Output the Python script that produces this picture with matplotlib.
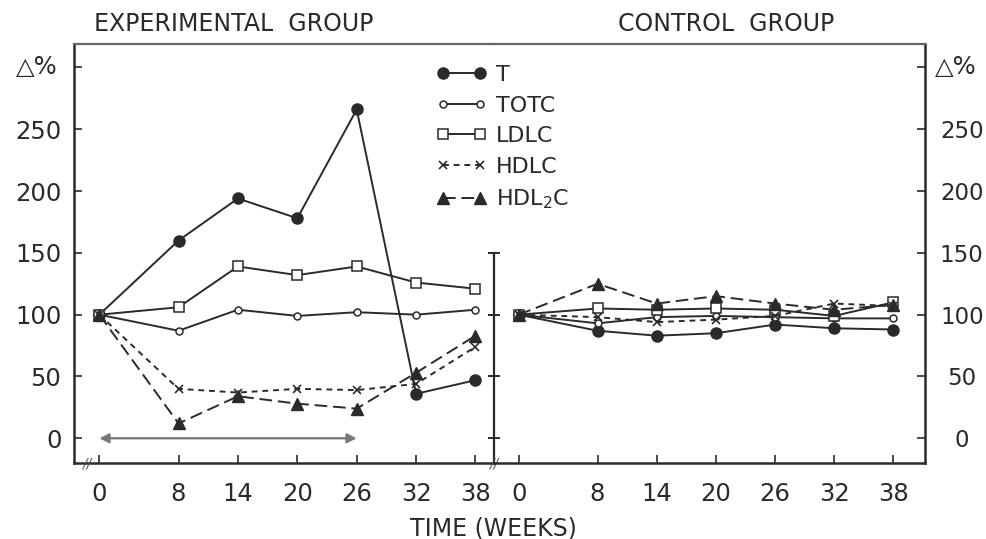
"""Percent change of lipid fractions over 38 weeks, experimental vs control group."""
import matplotlib

matplotlib.use("Agg")
import matplotlib.pyplot as plt

WEEKS = [0, 8, 14, 20, 26, 32, 38]
Y_TICKS = [0, 50, 100, 150, 200, 250, 300]
Y_LABELS = ["0", "50", "100", "150", "200", "250", ""]
DIVIDER_TICKS = [0, 50, 100, 150]
ARROW_SPAN = (0, 26)

SERIES = ["T", "TOTC", "LDLC", "HDLC", "HDL$_2$C"]

EXP_T = [100, 160, 194, 178, 266, 36, 47]
EXP_TOTC = [100, 87, 104, 99, 102, 100, 104]
EXP_LDLC = [100, 106, 139, 132, 139, 126, 121]
EXP_HDLC = [100, 40, 37, 40, 39, 44, 74]
EXP_HDL2C = [100, 12, 34, 28, 24, 53, 83]

CTL_T = [100, 87, 83, 85, 92, 89, 88]
CTL_TOTC = [100, 93, 98, 99, 98, 97, 97]
CTL_LDLC = [100, 105, 104, 105, 104, 99, 110]
CTL_HDLC = [100, 98, 94, 96, 99, 109, 107]
CTL_HDL2C = [100, 125, 109, 115, 109, 104, 108]

INK = "#2a2a2a"
STYLES = [
    dict(marker="o", ms=8, mfc=INK, mec=INK, ls="-"),
    dict(marker="o", ms=5, mfc="white", mec=INK, mew=1.1, ls="-"),
    dict(marker="s", ms=7.5, mfc="white", mec=INK, mew=1.1, ls="-"),
    dict(marker="x", ms=6, mec=INK, mew=1.2, ls=(0, (3, 2.5))),
    dict(marker="^", ms=8, mfc=INK, mec=INK, ls=(0, (6.5, 3))),
]


def style_axes(ax, side):
    ax.set_ylim(-20, 319)
    ax.set_xticks(WEEKS)
    ax.set_xticklabels([str(w) for w in WEEKS])
    ax.set_yticks(Y_TICKS)
    ax.set_yticklabels(Y_LABELS)
    ax.tick_params(axis="both", direction="in", length=6, width=1.2,
                   color=INK, labelcolor=INK, labelsize=17.5)
    ax.tick_params(axis="x", pad=14)
    ax.spines["top"].set_color("#666666")
    ax.spines["top"].set_linewidth(1.6)
    ax.spines["bottom"].set_color(INK)
    ax.spines["bottom"].set_linewidth(1.8)
    if side == "left":
        ax.spines["right"].set_visible(False)
        ax.spines["left"].set_color(INK)
        ax.spines["left"].set_linewidth(1.8)
        ax.tick_params(axis="y", pad=9)
    else:
        ax.spines["left"].set_visible(False)
        ax.spines["right"].set_color(INK)
        ax.spines["right"].set_linewidth(1.8)
        ax.yaxis.tick_right()
        ax.tick_params(axis="y", pad=26.5, labelsize=16.5)


def main() -> None:
    plt.rcParams["font.family"] = ["DejaVu Sans"]
    fig = plt.figure(figsize=(9.86, 5.39), dpi=100)
    ax_e = fig.add_axes([0.07505, 0.1410, 0.42596, 0.7774])
    ax_c = fig.add_axes([0.50101, 0.1410, 0.43712, 0.7774])
    ax_c.patch.set_visible(False)
    ax_e.set_xlim(-2.56, 39.87)
    ax_c.set_xlim(-2.5, 41.2)

    exp = [EXP_T, EXP_TOTC, EXP_LDLC, EXP_HDLC, EXP_HDL2C]
    ctl = [CTL_T, CTL_TOTC, CTL_LDLC, CTL_HDLC, CTL_HDL2C]
    handles = []
    for name, e, c, st in zip(SERIES, exp, ctl, STYLES):
        h, = ax_e.plot(WEEKS, e, color=INK, lw=1.4, label=name, **st)
        ax_c.plot(WEEKS, c, color=INK, lw=1.4, **st)
        handles.append(h)

    style_axes(ax_e, "left")
    style_axes(ax_c, "right")

    # treatment period arrow
    ax_e.annotate("", xy=(ARROW_SPAN[1], 0), xytext=(ARROW_SPAN[0], 0),
                  arrowprops=dict(arrowstyle="<|-|>", color="#777777", lw=1.6,
                                  mutation_scale=14, shrinkA=0, shrinkB=0))

    # partial divider between the panels, with its own ticks
    tr = ax_e.get_yaxis_transform()
    ax_e.plot([1, 1], [-20, DIVIDER_TICKS[-1]], transform=tr, color=INK,
              lw=1.6, clip_on=False)
    ax_e.plot([1] * len(DIVIDER_TICKS), DIVIDER_TICKS, transform=tr,
              ls="none", marker="_", ms=9, mew=1.4, color=INK, clip_on=False)

    # axis-break marks
    for xf in [0.03, 1.0]:
        ax_e.text(xf, 0, "//", transform=ax_e.transAxes, ha="center",
                  va="center", fontsize=10, color="#555555", style="italic")

    for ax, xf, ha, dx in [(ax_e, 0, "right", -16), (ax_c, 1, "left", 10)]:
        ax.annotate("\u25b3%", xy=(xf, 300), xycoords=ax.get_yaxis_transform(),
                    xytext=(dx, 0), textcoords="offset pixels", ha=ha,
                    va="center", fontsize=17.5, color=INK)

    for ax, xf, title in [(ax_e, 0.381, "EXPERIMENTAL  GROUP"),
                          (ax_c, 0.538, "CONTROL  GROUP")]:
        ax.annotate(title, xy=(xf, 1), xycoords="axes fraction",
                    xytext=(0, 20), textcoords="offset pixels", ha="center",
                    va="center", fontsize=17, color=INK)
    fig.text(0.5, 0.02, "TIME (WEEKS)", ha="center", va="center",
             fontsize=17, color=INK)

    leg = ax_e.legend(handles=handles, loc="upper left",
                      bbox_to_anchor=(0.862, 0.95), frameon=False,
                      fontsize=16, numpoints=2, handlelength=2.3,
                      handletextpad=0.4, labelspacing=0.48, borderpad=0,
                      borderaxespad=0)
    for t in leg.get_texts():
        t.set_color(INK)

    fig.canvas.draw()
    for tick in ax_c.yaxis.get_major_ticks():
        tick.label2.set_horizontalalignment("center")

    fig.savefig("out.png", dpi=100, facecolor="white")
    plt.close(fig)


if __name__ == "__main__":
    main()
